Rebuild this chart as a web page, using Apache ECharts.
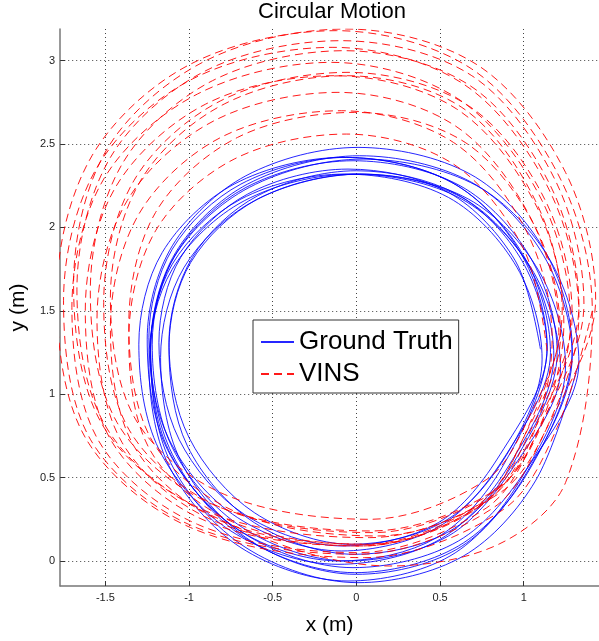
<!DOCTYPE html>
<html>
<head>
<meta charset="utf-8">
<title>Circular Motion</title>
<script src="https://cdn.jsdelivr.net/npm/echarts@6/dist/echarts.min.js"></script>
<style>
html, body { margin: 0; padding: 0; background: #fff; }
#main { width: 599px; height: 641px; }
</style>
</head>
<body>
<div id="main"></div>
<script>
// tick positions
var xTicks = [-1.5, -1, -0.5, 0, 0.5, 1];
var yTicks = [0, 0.5, 1, 1.5, 2, 2.5, 3];

// ground truth, one loop per array, [x, y] in m
var gtLoop01 = [[1.20,1.25],[1.04,1.82],[0.62,2.25],[-0.02,2.40],[-0.66,2.24],[-1.08,1.84],[-1.22,1.30],[-1.10,0.68],[-0.68,0.20],[-0.05,0.00],[0.55,0.15],[0.95,0.58]];
var gtLoop02 = [[1.29,1.23],[1.12,1.83],[0.69,2.27],[0.02,2.43],[-0.65,2.26],[-1.08,1.85],[-1.23,1.28],[-1.10,0.64],[-0.67,0.14],[-0.01,-0.07],[0.61,0.09],[1.03,0.54]];
var gtLoop03 = [[1.10,1.27],[0.95,1.80],[0.55,2.21],[-0.05,2.35],[-0.65,2.20],[-1.05,1.82],[-1.18,1.31],[-1.06,0.73],[-0.67,0.28],[-0.08,0.09],[0.49,0.23],[0.86,0.64]];
var gtLoop04 = [[1.33,1.19],[1.16,1.80],[0.72,2.25],[0.04,2.41],[-0.64,2.24],[-1.09,1.82],[-1.23,1.25],[-1.11,0.59],[-0.66,0.08],[0.01,-0.13],[0.64,0.03],[1.07,0.48],[1.33,1.19]];
var gtLoop05 = [[1.16,1.25],[1.00,1.83],[0.57,2.27],[-0.08,2.42],[-0.73,2.26],[-1.16,1.85],[-1.30,1.30],[-1.18,0.67],[-0.75,0.18],[-0.11,-0.02],[0.50,0.13],[0.91,0.57]];
var gtLoop06 = [[1.14,1.27],[0.99,1.80],[0.60,2.20],[0.00,2.34],[-0.59,2.19],[-0.98,1.82],[-1.12,1.31],[-1.00,0.74],[-0.61,0.29],[-0.03,0.10],[0.53,0.24],[0.90,0.64]];
var gtLoop07 = [[1.25,1.17],[1.09,1.74],[0.67,2.17],[0.03,2.32],[-0.61,2.16],[-1.03,1.76],[-1.17,1.22],[-1.05,0.60],[-0.63,0.12],[0.00,-0.08],[0.60,0.07],[1.00,0.50]];
var gtLoop08 = [[1.11,1.21],[0.96,1.76],[0.55,2.18],[-0.07,2.32],[-0.69,2.17],[-1.10,1.78],[-1.23,1.26],[-1.12,0.66],[-0.71,0.19],[-0.10,0.00],[0.48,0.14],[0.87,0.56]];
var gtLoop09 = [[1.29,1.27],[1.12,1.87],[0.68,2.32],[0.01,2.48],[-0.66,2.31],[-1.10,1.89],[-1.25,1.33],[-1.13,0.67],[-0.68,0.17],[-0.02,-0.04],[0.61,0.12],[1.03,0.57]];
var gtLoop10 = [[1.22,1.15],[1.06,1.73],[0.63,2.17],[-0.02,2.32],[-0.67,2.16],[-1.10,1.75],[-1.24,1.20],[-1.12,0.57],[-0.69,0.08],[-0.05,-0.12],[0.56,0.03],[0.97,0.47]];
var gtLoop11 = [[1.18,1.23],[1.03,1.77],[0.63,2.18],[0.02,2.32],[-0.59,2.17],[-0.99,1.79],[-1.12,1.28],[-1.01,0.69],[-0.61,0.23],[-0.01,0.04],[0.56,0.18],[0.94,0.59]];
var gtLoop12 = [[1.14,1.29],[0.98,1.85],[0.57,2.27],[-0.06,2.42],[-0.69,2.26],[-1.10,1.87],[-1.24,1.34],[-1.12,0.73],[-0.71,0.26],[-0.09,0.06],[0.50,0.21],[0.89,0.63]];

// VINS estimate, drifting loops
var vinsLoop01 = [[1.14,1.26],[1.00,1.87],[0.58,2.38],[-0.06,2.56],[-0.73,2.41],[-1.20,1.98],[-1.36,1.33],[-1.23,0.66],[-0.73,0.23],[0.08,0.10],[0.73,0.32],[0.98,0.70]];
var vinsLoop02 = [[1.22,1.35],[1.08,1.98],[0.65,2.51],[-0.01,2.69],[-0.71,2.54],[-1.20,2.09],[-1.36,1.42],[-1.22,0.72],[-0.71,0.29],[0.13,0.15],[0.80,0.38],[1.06,0.77]];
var vinsLoop03 = [[1.17,1.33],[1.02,1.97],[0.58,2.51],[-0.09,2.70],[-0.81,2.54],[-1.30,2.08],[-1.47,1.40],[-1.33,0.69],[-0.81,0.24],[0.05,0.10],[0.73,0.34],[1.00,0.74]];
var vinsLoop04 = [[1.23,1.50],[1.07,2.16],[0.63,2.72],[-0.06,2.91],[-0.79,2.74],[-1.29,2.28],[-1.47,1.58],[-1.32,0.85],[-0.79,0.40],[0.08,0.25],[0.78,0.49],[1.05,0.90]];
var vinsLoop05 = [[1.21,1.37],[1.05,2.04],[0.59,2.61],[-0.11,2.81],[-0.85,2.64],[-1.37,2.16],[-1.55,1.45],[-1.40,0.71],[-0.85,0.24],[0.04,0.09],[0.75,0.34],[1.03,0.76]];
var vinsLoop06 = [[1.29,1.47],[1.13,2.16],[0.67,2.73],[-0.05,2.93],[-0.81,2.76],[-1.33,2.28],[-1.51,1.55],[-1.36,0.79],[-0.81,0.32],[0.10,0.17],[0.83,0.42],[1.11,0.84]];
var vinsLoop07 = [[1.24,1.42],[1.08,2.12],[0.60,2.71],[-0.13,2.91],[-0.90,2.74],[-1.44,2.24],[-1.62,1.50],[-1.47,0.73],[-0.90,0.24],[0.03,0.09],[0.77,0.35],[1.06,0.78]];
var vinsLoop08 = [[1.33,1.53],[1.16,2.25],[0.68,2.85],[-0.07,3.06],[-0.86,2.88],[-1.40,2.38],[-1.59,1.62],[-1.43,0.83],[-0.86,0.34],[0.09,0.18],[0.85,0.44],[1.14,0.89]];
var vinsLoop09 = [[1.28,1.43],[1.11,2.16],[0.61,2.77],[-0.15,2.99],[-0.95,2.80],[-1.51,2.29],[-1.70,1.52],[-1.54,0.72],[-0.95,0.22],[0.01,0.05],[0.78,0.32],[1.08,0.77]];
var vinsLoop10 = [[1.36,1.54],[1.19,2.28],[0.69,2.91],[-0.09,3.12],[-0.90,2.94],[-1.47,2.42],[-1.67,1.63],[-1.50,0.81],[-0.90,0.30],[0.08,0.14],[0.86,0.41],[1.17,0.87]];
var vinsLoop11 = [[1.33,1.47],[1.15,2.23],[0.64,2.86],[-0.14,3.08],[-0.98,2.89],[-1.55,2.36],[-1.75,1.56],[-1.59,0.73],[-0.98,0.21],[0.02,0.04],[0.82,0.32],[1.13,0.78]];
var vinsLoop12 = [[1.43,1.57],[1.25,2.33],[0.73,2.97],[-0.06,3.19],[-0.90,3.00],[-1.49,2.47],[-1.69,1.66],[-1.52,0.82],[-0.90,0.29],[0.20,-0.03],[0.85,0.10],[1.25,0.47]];
var vinsLoop13 = [[1.41,1.50],[1.22,2.29],[0.69,2.95],[-0.12,3.18],[-0.99,2.98],[-1.58,2.43],[-1.79,1.60],[-1.62,0.74],[-0.99,0.20],[0.05,0.02],[0.88,0.31],[1.20,0.80],[1.41,1.50]];

// loops ordered so that neighbouring laps join up smoothly
var gtPath = [].concat(gtLoop03, gtLoop06, gtLoop08, gtLoop12, gtLoop05, gtLoop11,
    gtLoop01, gtLoop10, gtLoop07, gtLoop02, gtLoop09, gtLoop04);
var vinsPath = [].concat(vinsLoop01, vinsLoop02, vinsLoop03, vinsLoop04, vinsLoop05, vinsLoop06, vinsLoop07,
    vinsLoop08, vinsLoop09, vinsLoop10, vinsLoop11, vinsLoop12, vinsLoop13);

var font = "'Liberation Sans', Arial, Helvetica, sans-serif";

var myChart = echarts.init(document.getElementById("main"));

var option = {
    animation: false,
    backgroundColor: "#fff",
    title: {
        text: "Circular Motion",
        left: 258,
        top: 1,
        padding: 0,
        textStyle: {fontFamily: font, fontSize: 22, fontWeight: "normal", color: "#000"}
    },
    legend: {
        orient: "vertical",
        left: 253,
        top: 320,
        padding: [9, 6, 6, 7],
        itemGap: 6,
        itemWidth: 33,
        itemHeight: 14,
        backgroundColor: "#fff",
        borderColor: "#333",
        borderWidth: 1,
        borderRadius: 0,
        itemStyle: {opacity: 0},
        textStyle: {fontFamily: font, fontSize: 26, color: "#000"},
        data: ["Ground Truth", "VINS"]
    },
    grid: {
        left: 56,
        right: 0,
        top: 29,
        bottom: 50,
        containLabel: false
    },
    xAxis: {
        type: "value",
        min: -1.77,
        max: 1.45,
        name: "x (m)",
        nameLocation: "middle",
        nameGap: 29,
        nameTextStyle: {fontFamily: font, fontSize: 21, color: "#000"},
        axisLine: {onZero: false, lineStyle: {color: "#777", width: 1.5}},
        axisTick: {inside: true, length: 5, customValues: xTicks, lineStyle: {color: "#333"}},
        axisLabel: {customValues: xTicks, margin: 6, fontFamily: font, fontSize: 11, color: "#222"},
        splitLine: {show: true, lineStyle: {color: "#444", width: 1, type: [1, 3]}}
    },
    yAxis: {
        type: "value",
        min: -0.15,
        max: 3.19,
        name: "y (m)",
        nameLocation: "middle",
        nameGap: 31,
        nameTextStyle: {fontFamily: font, fontSize: 21, color: "#000"},
        axisLine: {show: true, onZero: false, lineStyle: {color: "#777", width: 1.5}},
        axisTick: {show: true, inside: true, length: 5, customValues: yTicks, lineStyle: {color: "#333"}},
        axisLabel: {customValues: yTicks, margin: 5, fontFamily: font, fontSize: 11, color: "#222"},
        splitLine: {show: true, lineStyle: {color: "#444", width: 1, type: [1, 3]}}
    },
    series: [
        {
            name: "Ground Truth",
            type: "line",
            data: gtPath,
            smooth: 0.33,
            symbol: "none",
            itemStyle: {color: "#0000ff"},
            lineStyle: {color: "#0000ff", width: 1, opacity: 0.85}
        },
        {
            name: "VINS",
            type: "line",
            data: vinsPath,
            smooth: 0.33,
            symbol: "none",
            itemStyle: {color: "#ff0000"},
            lineStyle: {color: "#ff0000", width: 1, type: [8, 5], opacity: 0.9}
        }
    ]
};

myChart.setOption(option);
</script>
</body>
</html>
